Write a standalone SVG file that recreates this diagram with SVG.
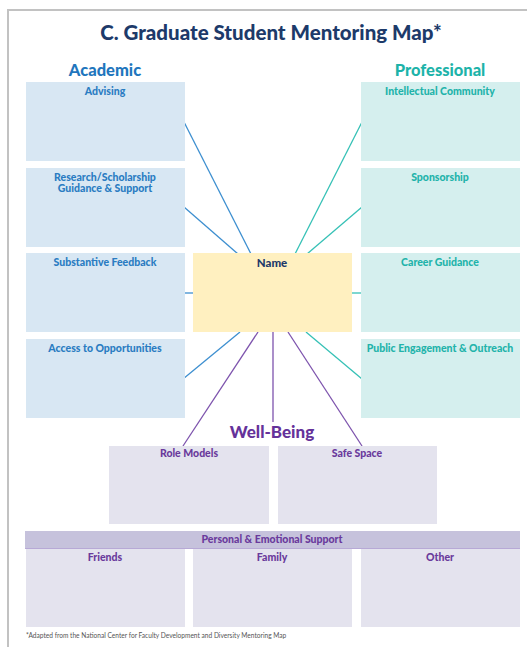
<svg xmlns="http://www.w3.org/2000/svg" width="527" height="647" viewBox="0 0 527 647">
<style>
text{font-family:Lato,"Open Sans","Liberation Sans",sans-serif;font-weight:900;text-anchor:middle}
.aca{fill:#d8e7f3}
.pro{fill:#d5efee}
.wel{fill:#e4e3ee}
.la{fill:#2a7cc2;font-size:10.5px}
.lp{fill:#22b3aa;font-size:10.5px}
.lw{fill:#6a3a9c;font-size:10.5px}
.ca{stroke:#3d8fd0;stroke-width:1.3;fill:none}
.cp{stroke:#36c1b6;stroke-width:1.3;fill:none}
.cw{stroke:#7d53ad;stroke-width:1.3;fill:none}
</style>
<rect width="527" height="647" fill="#ffffff"/>
<path d="M8 647 V10 H527" fill="none" stroke="#c2c2c2" stroke-width="2"/>
<text x="271" y="40" style="font-size:20.5px;fill:#1d3a6a">C. Graduate Student Mentoring Map*</text>
<text x="105" y="76" style="font-size:16.5px;fill:#1f76bd">Academic</text>
<text x="440" y="76" style="font-size:16.5px;fill:#1db3a9">Professional</text>
<text x="272" y="438" style="font-size:17px;fill:#65329a">Well-Being</text>

<g id="connectors">
<line class="ca" x1="184" y1="122" x2="251" y2="254"/>
<line class="ca" x1="184" y1="207" x2="238" y2="254"/>
<line class="ca" x1="183" y1="293" x2="193" y2="293"/>
<line class="ca" x1="240" y1="332" x2="183" y2="379"/>
<line class="cp" x1="362" y1="122" x2="295" y2="254"/>
<line class="cp" x1="362" y1="207" x2="307" y2="254"/>
<line class="cp" x1="352" y1="293" x2="362" y2="293"/>
<line class="cp" x1="306" y1="332" x2="362" y2="379"/>
<line class="cw" x1="258" y1="332" x2="183" y2="446"/>
<line class="cw" x1="273" y1="332" x2="273" y2="422"/>
<line class="cw" x1="288" y1="332" x2="362" y2="446"/>
</g>

<g id="advising"><rect class="aca" x="26" y="82" width="159" height="79"/><text class="la" x="105" y="95">Advising</text></g>
<g id="research"><rect class="aca" x="26" y="168" width="159" height="79"/><text class="la" x="105" y="181">Research/Scholarship</text><text class="la" x="105" y="192">Guidance &amp; Support</text></g>
<g id="feedback"><rect class="aca" x="26" y="253" width="159" height="79"/><text class="la" x="105" y="266">Substantive Feedback</text></g>
<g id="access"><rect class="aca" x="26" y="339" width="159" height="79"/><text class="la" x="105" y="352">Access to Opportunities</text></g>

<g id="name"><rect x="193" y="253" width="159" height="79" fill="#fff0c0"/><text x="272" y="267" style="font-size:11.5px;fill:#1d3a6a">Name</text></g>

<g id="intellectual"><rect class="pro" x="361" y="82" width="159" height="79"/><text class="lp" x="440" y="95">Intellectual Community</text></g>
<g id="sponsorship"><rect class="pro" x="361" y="168" width="159" height="79"/><text class="lp" x="440" y="181">Sponsorship</text></g>
<g id="career"><rect class="pro" x="361" y="253" width="159" height="79"/><text class="lp" x="440" y="266">Career Guidance</text></g>
<g id="public"><rect class="pro" x="361" y="339" width="159" height="79"/><text class="lp" x="440" y="352">Public Engagement &amp; Outreach</text></g>

<g id="role-models"><rect class="wel" x="109" y="446" width="160" height="78"/><text class="lw" x="189" y="457">Role Models</text></g>
<g id="safe-space"><rect class="wel" x="278" y="446" width="159" height="78"/><text class="lw" x="357" y="457">Safe Space</text></g>

<g id="personal"><rect x="25" y="531" width="495" height="18" fill="#c6c2dc"/><line x1="25" y1="548.5" x2="520" y2="548.5" stroke="#b7a9d6" stroke-width="1"/><text class="lw" x="272" y="543">Personal &amp; Emotional Support</text></g>
<g id="friends"><rect class="wel" x="26" y="549" width="159" height="78"/><text class="lw" x="105" y="561">Friends</text></g>
<g id="family"><rect class="wel" x="193" y="549" width="159" height="78"/><text class="lw" x="272" y="561">Family</text></g>
<g id="other"><rect class="wel" x="361" y="549" width="159" height="78"/><text class="lw" x="440" y="561">Other</text></g>

<text x="26" y="638" style="font-size:6.6px;font-weight:normal;fill:#555;text-anchor:start">*Adapted from the National Center for Faculty Development and Diversity Mentoring Map</text>
</svg>
